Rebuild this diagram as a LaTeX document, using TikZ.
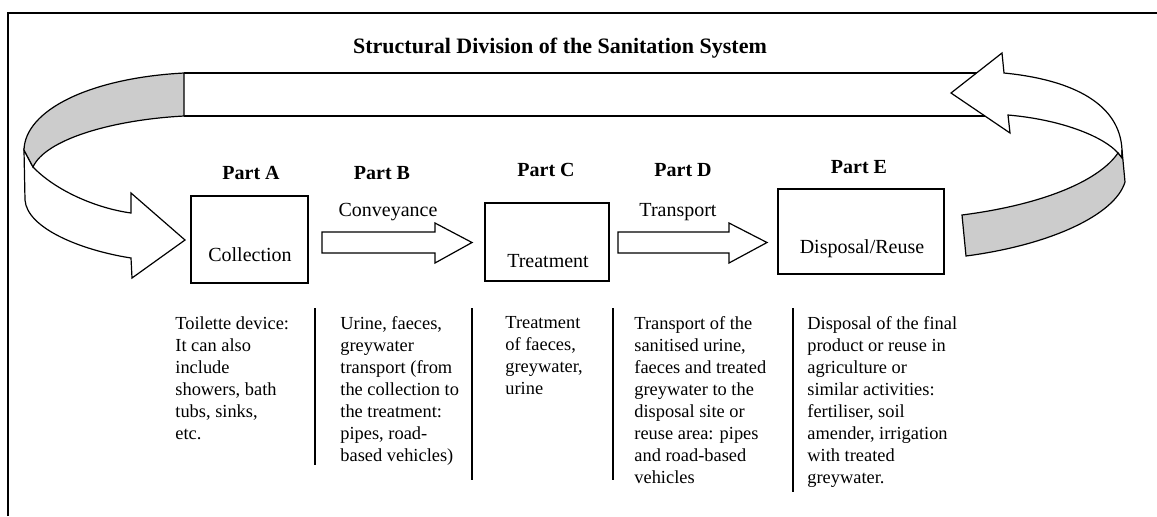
\documentclass[tikz,border=0pt]{standalone}
\usepackage{fontspec}
\setmainfont{Liberation Serif}
\begin{document}
\begin{tikzpicture}[x=0.5pt,y=-0.5pt,
  outline/.style={draw=black, line width=0.6pt, line join=miter},
  ribbonfront/.style={outline, fill=black!20},
  ribbonback/.style={outline, fill=white},
  stagebox/.style={draw=black, line width=0.8pt, inner sep=0pt},
  stagelabel/.style={font=\fontsize{10}{12}\selectfont, inner sep=0pt},
  parthead/.style={font=\bfseries\fontsize{10}{12}\selectfont, inner sep=0pt},
  flowlabel/.style={font=\fontsize{10}{12}\selectfont, inner sep=0pt},
  blockarrow/.style={outline, fill=white},
  desc/.style={font=\fontsize{9.2}{11}\selectfont, align=left, anchor=north west, inner sep=0pt},
  divider/.style={draw=black, line width=1pt},
  frameline/.style={draw=black, line width=1pt}]

\useasboundingbox (0,0) rectangle (1157,516);

% outer frame (top and left edges)
\draw[frameline] (8,516) -- (8,13) -- (1157,13);

% title
\node[font=\bfseries\fontsize{11}{13}\selectfont, inner sep=0pt] (title) at (560,48)
  {Structural Division of the Sanitation System};

% ---- return loop: long band on top ----
\draw[outline] (184,73) -- (976.5,73);
\draw[outline] (184,116) -- (985,116);

% right end: arrowhead pointing left, with the ribbon turning down behind
\draw[ribbonback] (1004,73) -- (1002,53) -- (951,93) -- (1010,133) -- (1008,115)
  .. controls (1065,120) and (1105,138) .. (1118,153)
  -- (1122,158) -- (1122,150)
  .. controls (1120,105) and (1075,80) .. (1004,73) -- cycle;
% right end: shaded front face of the ribbon
\draw[ribbonfront] (1118,153) -- (1122,158) -- (1122,150) -- (1125,182)
  .. controls (1115,215) and (1050,245) .. (966,256)
  -- (962,215)
  .. controls (1040,205) and (1098,182) .. (1118,153) -- cycle;

% left end: ribbon coming down into an arrowhead pointing right
\draw[ribbonback] (24,150) -- (25,200)
  .. controls (27,228) and (80,250) .. (131,258)
  -- (132,278) -- (185,240) -- (131,193) -- (131,213)
  .. controls (95,208) and (55,190) .. (33,167) -- cycle;
% left end: shaded face joining the band
\draw[ribbonfront] (184,73) .. controls (90,78) and (25,110) .. (24,150)
  -- (33,167) .. controls (45,140) and (110,120) .. (184,116) -- cycle;

% ---- stages ----
\node[stagebox, minimum width=58.5pt, minimum height=43.5pt] (collect) at (249.5,239.5) {};
\node[stagebox, minimum width=62pt, minimum height=39pt] (treat) at (547,242) {};
\node[stagebox, minimum width=83pt, minimum height=42.5pt] (dispose) at (861,231.5) {};

\node[stagelabel] (collectlbl) at (250,255) {Collection};
\node[stagelabel] (treatlbl) at (548,261) {Treatment};
\node[stagelabel] (disposelbl) at (862,249) {Disposal/Reuse};

% part headings
\node[parthead] (pa) at (251,173) {Part A};
\node[parthead] (pb) at (382,173) {Part B};
\node[parthead] (pc) at (546,170) {Part C};
\node[parthead] (pd) at (683,170) {Part D};
\node[parthead] (pe) at (859,167) {Part E};

% block arrows between the stages
\draw[blockarrow] (322,232) -- (435,232) -- (435,223) -- (472,242.5)
  -- (435,263) -- (435,253) -- (322,253) -- cycle;
\draw[blockarrow] (618,232) -- (729,232) -- (729,223) -- (767,242.5)
  -- (729,263) -- (729,253) -- (618,253) -- cycle;
\node[flowlabel] (conv) at (388,212) {Conveyance};
\node[flowlabel] (transp) at (678,212) {Transport};

% ---- descriptions ----
\node[desc] (da) at (175,316) {Toilette device:\\It can also\\include\\showers, bath\\tubs, sinks,\\etc.};
\node[desc] (db) at (340,316) {Urine, faeces,\\greywater\\transport (from\\the collection to\\the treatment:\\pipes, road-\\based vehicles)};
\node[desc] (dc) at (505,316) {Treatment\\of faeces,\\greywater,\\urine};
\node[desc] (dd) at (634,316) {Transport of the\\sanitised urine,\\faeces and treated\\greywater to the\\disposal site or\\reuse area: pipes\\and road-based\\vehicles};
\node[desc] (de) at (807,316) {Disposal of the final\\product or reuse in\\agriculture or\\similar activities:\\fertiliser, soil\\amender, irrigation\\with treated\\greywater.};

% column dividers
\draw[divider] (315,308) -- (315,465);
\draw[divider] (472,308) -- (472,480);
\draw[divider] (613,308) -- (613,480);
\draw[divider] (793,308) -- (793,492);

\end{tikzpicture}
\end{document}
